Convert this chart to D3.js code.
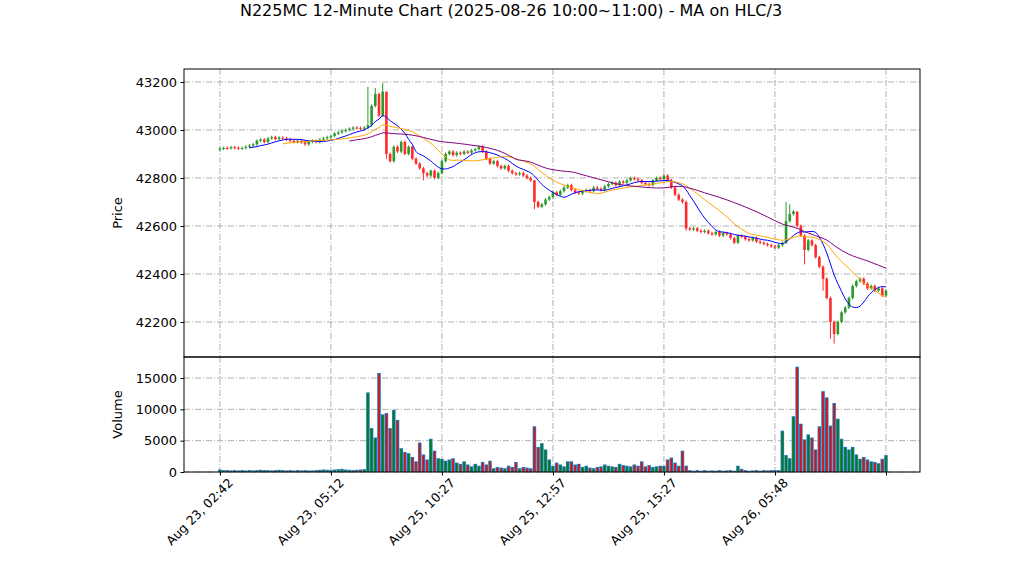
<!DOCTYPE html>
<html><head><meta charset="utf-8">
<script src="https://cdn.jsdelivr.net/npm/d3@7"></script>
<style>body{margin:0;background:#fff}text{font-family:"DejaVu Sans",sans-serif}</style>
</head><body><svg id="c" width="1022" height="575"></svg>
<script>
const closes = [
42922,42925,42924,42928,42926,42923,42925,42930,42935,42940,
42955,42960,42950,42965,42970,42962,42968,42965,42960,42955,
42950,42955,42948,42940,42950,42955,42950,42960,42965,42970,
42975,42985,42990,42995,43000,43005,43010,43008,43005,43010,
43020,43100,43150,43060,43160,42900,42870,42930,42910,42950,
42900,42930,42880,42860,42840,42820,42810,42830,42800,42820,
42870,42900,42910,42895,42905,42900,42910,42905,42915,42920,
42930,42910,42880,42860,42870,42850,42840,42850,42830,42820,
42815,42820,42810,42800,42790,42700,42680,42690,42710,42720,
42740,42730,42745,42760,42770,42750,42740,42735,42745,42750,
42745,42760,42755,42750,42765,42775,42780,42770,42785,42780,
42790,42800,42795,42790,42780,42775,42770,42790,42800,42795,
42810,42790,42760,42730,42710,42700,42590,42585,42590,42580,
42575,42580,42570,42565,42575,42560,42570,42565,42550,42530,
42560,42555,42545,42540,42550,42535,42530,42525,42520,42515,
42510,42520,42530,42620,42650,42660,42600,42560,42500,42540,
42520,42470,42430,42380,42300,42200,42150,42200,42240,42260,
42300,42350,42370,42380,42360,42340,42350,42330,42340,42310,42330];
const firstOpen = 42918;
const bigHighs = {40:43180, 42:43175, 44:43195, 45:43060, 85:42790, 153:42700, 154:42690, 156:42660};
const bigLows = {45:42880, 55:42790, 85:42670, 126:42580, 158:42440, 163:42330, 165:42130, 166:42110};
const volumes = [
400,300,300,250,300,250,300,250,300,250,300,350,300,300,250,300,350,300,250,300,
250,300,250,300,250,250,300,350,400,350,300,400,450,500,400,350,300,350,400,450,
12700,7000,5500,15800,9200,9400,7000,9900,8300,3800,3200,3000,2400,1700,4700,2800,2000,5300,3400,2200,
2100,1800,2000,2200,1500,1300,1700,1200,900,1300,1000,1600,1200,1800,600,800,700,600,1000,800,
1600,600,800,700,600,7300,4000,4600,3600,2000,1000,1500,1200,900,1700,1700,1200,1300,800,1000,
700,600,800,900,1200,1000,900,800,1300,1100,1000,900,1200,1000,1700,900,1100,800,900,1000,
1000,2000,2300,1500,1000,3400,1000,300,200,300,200,300,200,250,200,300,200,250,300,200,
1000,500,300,200,250,300,200,300,250,300,300,300,6600,2700,2200,8900,16800,7700,5200,6000,
5500,3600,7300,12900,11900,7400,11000,8500,5300,4000,3600,4000,2800,2100,2400,2000,1700,1600,1400,2100,2700];
const tickIdx = [0,30,60,90,120,150,180];
const tickLabels = ["Aug 23, 02:42","Aug 23, 05:12","Aug 25, 10:27","Aug 25, 12:57","Aug 25, 15:27","Aug 26, 05:48",""];
const priceTicks = [42200,42400,42600,42800,43000,43200];
const volTicks = [0,5000,10000,15000];
const maWindows = [9,18,36];
const maColors = ["blue","orange","purple"];

const data = closes.map((c,i)=>{
  const o = i===0?firstOpen:closes[i-1];
  const h = bigHighs[i]!==undefined?bigHighs[i]:Math.max(o,c)+6;
  const l = bigLows[i]!==undefined?bigLows[i]:Math.min(o,c)-6;
  return {i,o,c,h,l,v:volumes[i]};
});
const svg=d3.select("#c");
const L=184,R=920,T=69,M=357,B=472;
const x=d3.scaleLinear().domain([-9.7,189.2]).range([L,R]);
const y=d3.scaleLinear().domain([42054,43254]).range([M,T]);
const yv=d3.scaleLinear().domain([0,18351]).range([B,M]);
const grid="#b0b0b0";
function grids(){
  const g=svg.append("g").attr("stroke",grid).attr("stroke-dasharray","6,2,1,2").attr("stroke-width",1);
  tickIdx.forEach(t=>{g.append("line").attr("x1",x(t)).attr("x2",x(t)).attr("y1",T).attr("y2",M);
    g.append("line").attr("x1",x(t)).attr("x2",x(t)).attr("y1",M).attr("y2",B);});
  priceTicks.forEach(p=>g.append("line").attr("x1",L).attr("x2",R).attr("y1",y(p)).attr("y2",y(p)));
  volTicks.forEach(p=>g.append("line").attr("x1",L).attr("x2",R).attr("y1",yv(p)).attr("y2",yv(p)));
}
grids();
const up="#2a9a2a",dn="#ff2a2a";
const cg=svg.append("g");
data.forEach(d=>{
  const col=d.c>=d.o?up:dn;
  cg.append("line").attr("x1",x(d.i)).attr("x2",x(d.i)).attr("y1",y(d.h)).attr("y2",y(d.l)).attr("stroke",col).attr("stroke-width",1);
  const top=y(Math.max(d.o,d.c)),bot=y(Math.min(d.o,d.c));
  cg.append("rect").attr("x",x(d.i)-1.3).attr("width",2.6).attr("y",top).attr("height",Math.max(1,bot-top)).attr("fill",col);
});
const hlc=data.map(d=>(d.h+d.l+d.c)/3);
maWindows.forEach((w,k)=>{
  const pts=[];
  for(let i=w-1;i<hlc.length;i++){pts.push([i,d3.mean(hlc.slice(i-w+1,i+1))]);}
  svg.append("path").attr("d",d3.line().x(p=>x(p[0])).y(p=>y(p[1])).curve(d3.curveMonotoneX)(pts))
    .attr("fill","none").attr("stroke",maColors[k]).attr("stroke-width",1);
});
const vg=svg.append("g");
data.forEach(d=>{
  const col=d.c>=d.o?"green":"red";
  vg.append("rect").attr("x",x(d.i)-1.75).attr("width",3.5).attr("y",yv(d.v)).attr("height",yv(0)-yv(d.v)).attr("fill","#1f77b4");
  vg.append("rect").attr("x",x(d.i)-0.75).attr("width",1.5).attr("y",yv(d.v)+1).attr("height",Math.max(0,yv(0)-yv(d.v)-1)).attr("fill",col);
});
[[T,M],[M,B]].forEach(([a,b])=>svg.append("rect").attr("x",L).attr("y",a).attr("width",R-L).attr("height",b-a).attr("fill","none").attr("stroke","#000").attr("stroke-width",1));
const ay=svg.append("g").attr("transform",`translate(${L},0)`).call(d3.axisLeft(y).tickValues(priceTicks).tickSize(3.5).tickPadding(3.5).tickFormat(d3.format("d")));
const av=svg.append("g").attr("transform",`translate(${L},0)`).call(d3.axisLeft(yv).tickValues(volTicks).tickSize(3.5).tickPadding(3.5).tickFormat(d3.format("d")));
const ax=svg.append("g").attr("transform",`translate(0,${B})`).call(d3.axisBottom(x).tickValues(tickIdx).tickSize(3.5).tickFormat((d,i)=>tickLabels[i]));
[ay,av,ax].forEach(a=>{a.select(".domain").remove();a.selectAll("text").attr("font-size",13).attr("fill","#000").style("font-family","DejaVu Sans");});
ax.selectAll("text").attr("font-size",12.5).attr("text-anchor","end").attr("transform","rotate(-45)").attr("dx","0.1em").attr("dy","0.9em");
svg.append("text").attr("x",511).attr("y",16).attr("text-anchor","middle").attr("font-size",16).text("N225MC 12-Minute Chart (2025-08-26 10:00~11:00) - MA on HLC/3");
svg.append("text").attr("transform",`translate(122,${(T+M)/2}) rotate(-90)`).attr("text-anchor","middle").attr("font-size",13).text("Price");
svg.append("text").attr("transform",`translate(122,${(M+B)/2}) rotate(-90)`).attr("text-anchor","middle").attr("font-size",13).text("Volume");
</script></body></html>
